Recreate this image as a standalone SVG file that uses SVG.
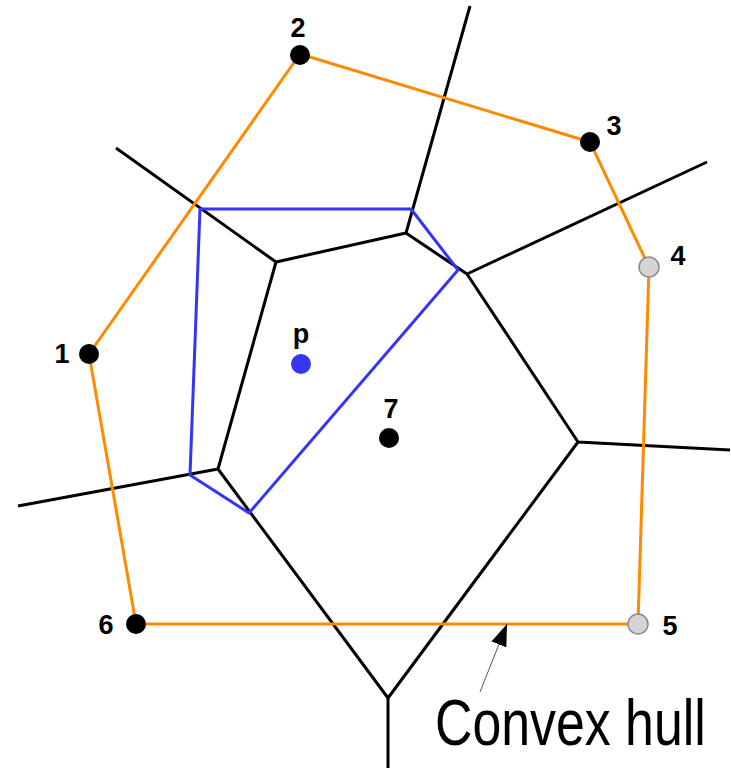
<svg xmlns="http://www.w3.org/2000/svg" width="731" height="768" viewBox="0 0 731 768">
<defs>
<style>
.vor{stroke:#000;stroke-width:3;fill:none;stroke-linejoin:round}
.hull{stroke:#ff8a00;stroke-width:3;fill:none;stroke-linejoin:round}
.tri{stroke:#3535f5;stroke-width:3;fill:none;stroke-linejoin:round}
.site{fill:#000}
.ghost{fill:#d4d4d4;stroke:#8a8a8a;stroke-width:1.5}
.lbl{font-family:"Liberation Sans",Arial,sans-serif;font-weight:bold;font-size:27px;fill:#000;text-anchor:middle}
</style>
<marker id="ah" viewBox="0 0 22 16" refX="22" refY="8" markerWidth="22" markerHeight="16" markerUnits="userSpaceOnUse" orient="auto">
<path d="M0,0 L22,8 L0,16 z" fill="#000"/>
</marker>
</defs>
<rect width="731" height="768" fill="#fff"/>
<g id="connectors">
<g id="voronoi">
<path class="vor" d="M116,148 L276,262 L406,233 L470,6"/>
<path class="vor" d="M406,233 L467,274 L707,162"/>
<path class="vor" d="M467,274 L578,442 L730,450"/>
<path class="vor" d="M578,442 L388,698 L388,768"/>
<path class="vor" d="M388,698 L218,469 L276,262"/>
<path class="vor" d="M218,469 L18,506"/>
</g>
<polygon id="hull" class="hull" points="89,354 300,54 590,142 649,267 638,624 136,624"/>
<polygon id="triangulation" class="tri" points="200,209 411,209 458,270 249,513 190,475"/>
<line id="pointer" x1="480" y1="692" x2="507" y2="624" stroke="#555" stroke-width="1" marker-end="url(#ah)"/>
</g>
<g id="n1"><circle class="site" cx="89" cy="354" r="10"/><text class="lbl" x="62" y="363">1</text></g>
<g id="n2"><circle class="site" cx="300" cy="55" r="10"/><text class="lbl" x="298" y="37">2</text></g>
<g id="n3"><circle class="site" cx="590" cy="142" r="10"/><text class="lbl" x="614" y="135">3</text></g>
<g id="n4"><circle class="ghost" cx="649" cy="267" r="10"/><text class="lbl" x="678" y="265">4</text></g>
<g id="n5"><circle class="ghost" cx="638" cy="624" r="10"/><text class="lbl" x="670" y="635">5</text></g>
<g id="n6"><circle class="site" cx="136" cy="624" r="10"/><text class="lbl" x="106" y="634">6</text></g>
<g id="np"><circle cx="301" cy="364" r="10" fill="#3535f5"/><text class="lbl" x="301" y="343">p</text></g>
<g id="n7"><circle class="site" cx="389" cy="438" r="10"/><text class="lbl" x="391" y="418">7</text></g>
<g id="caption"><text transform="translate(435,745) scale(0.81,1)" x="0" y="0" font-family="'Liberation Sans',Arial,sans-serif" font-size="64" fill="#000">Convex hull</text></g>
</svg>
